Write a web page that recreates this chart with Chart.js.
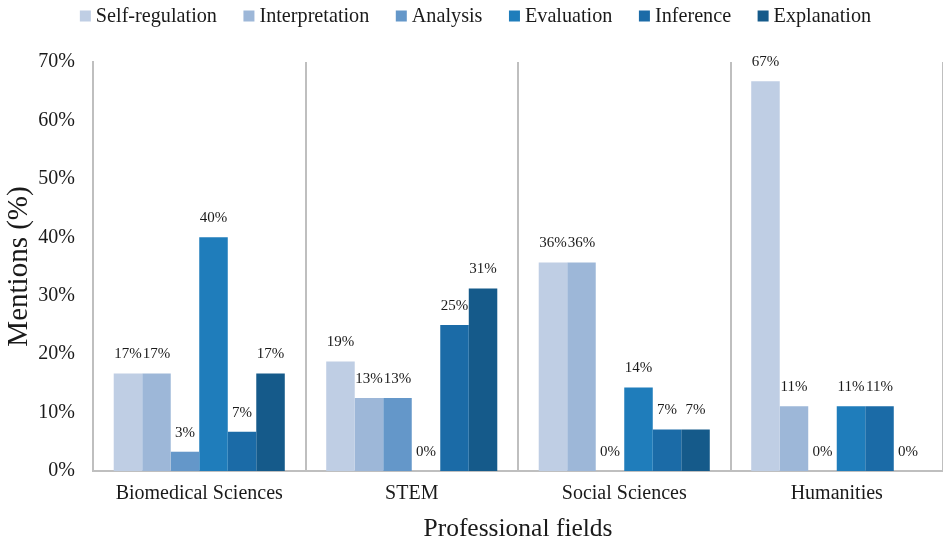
<!DOCTYPE html>
<html>
<head>
<meta charset="utf-8">
<script src="https://cdn.jsdelivr.net/npm/chart.js@4.4.0/dist/chart.umd.min.js"></script>
<style>
  html, body { margin: 0; padding: 0; background: #fff; }
  #wrap { width: 943px; height: 545px; }
</style>
</head>
<body>
<div id="wrap"><canvas id="skillsChart"></canvas></div>
<script>
// --- Data ---
const fields = ['Biomedical Sciences', 'STEM', 'Social Sciences', 'Humanities'];
const selfRegulation = [16.7, 18.75, 35.7, 66.7];
const interpretation = [16.7, 12.5, 35.7, 11.1];
const analysis = [3.3, 12.5, 0, 0];
const evaluation = [40, 0, 14.3, 11.1];
const inference = [6.7, 25, 7.1, 11.1];
const explanation = [16.7, 31.25, 7.1, 0];
const yTicks = [0, 10, 20, 30, 40, 50, 60, 70];

const serif = '"Liberation Serif", "Times New Roman", serif';
const textColor = '#1a1a1a';
const axisGray = '#bfbfbf';

// percentage above each bar
const barLabels = {
    id: 'barLabels',
    afterDatasetsDraw(chart) {
        const ctx = chart.ctx;
        ctx.save();
        ctx.font = '15px ' + serif;
        ctx.fillStyle = textColor;
        ctx.textAlign = 'center';
        ctx.textBaseline = 'middle';
        chart.data.datasets.forEach((ds, i) => {
            const meta = chart.getDatasetMeta(i);
            meta.data.forEach((bar, j) => {
                ctx.fillText(Math.round(ds.data[j]) + '%', bar.x, bar.y - 19);
            });
        });
        ctx.restore();
    }
};

// legend row across the top (small box, tight gap to the text)
const topLegend = {
    id: 'topLegend',
    afterDraw(chart) {
        const ctx = chart.ctx;
        const box = 11, gap = 5, spacing = 26.5;
        ctx.save();
        ctx.font = '20.2px ' + serif;
        ctx.textBaseline = 'middle';
        ctx.textAlign = 'left';
        const items = chart.data.datasets.map(ds => ({ text: ds.label, color: ds.backgroundColor, w: ctx.measureText(ds.label).width }));
        let total = items.reduce((s, it) => s + box + gap + it.w, 0) + spacing * (items.length - 1);
        let x = (chart.width - total) / 2 + 4;
        const y = 16;
        items.forEach(it => {
            ctx.fillStyle = it.color;
            ctx.fillRect(x, y - box / 2, box, box);
            ctx.fillStyle = textColor;
            ctx.fillText(it.text, x + box + gap, y + 1);
            x += box + gap + it.w + spacing;
        });
        ctx.restore();
    }
};

const series = [
    { label: 'Self-regulation', data: selfRegulation, color: '#bfcee4' },
    { label: 'Interpretation', data: interpretation, color: '#9db7d8' },
    { label: 'Analysis', data: analysis, color: '#6497c9' },
    { label: 'Evaluation', data: evaluation, color: '#1f7dbb' },
    { label: 'Inference', data: inference, color: '#1b6ba7' },
    { label: 'Explanation', data: explanation, color: '#155a8a' }
];

new Chart(document.getElementById('skillsChart'), {
    type: 'bar',
    data: {
        labels: fields,
        datasets: series.map(s => ({
            label: s.label,
            data: s.data,
            backgroundColor: s.color,
            borderWidth: 0,
            barPercentage: 1,
            categoryPercentage: 0.805
        }))
    },
    options: {
        responsive: true,
        maintainAspectRatio: false,
        animation: false,
        layout: { padding: { left: 0, right: 0, top: 62, bottom: 0 } },
        plugins: {
            legend: { display: false },
            tooltip: { enabled: false }
        },
        scales: {
            x: {
                afterFit: axis => { axis.height = 74; },
                grid: { display: true, offset: true, color: axisGray, drawTicks: false, lineWidth: 2 },
                border: { display: true, color: axisGray, width: 2 },
                ticks: { font: { family: serif, size: 20 }, color: textColor, padding: 11 },
                title: {
                    display: true,
                    text: 'Professional fields',
                    font: { family: serif, size: 25.5 },
                    color: textColor,
                    padding: { top: 6, bottom: 0 }
                }
            },
            y: {
                min: 0,
                max: 70,
                afterFit: axis => { axis.width = 93; },
                afterBuildTicks: axis => { axis.ticks = yTicks.map(v => ({ value: v })); },
                grid: { display: false, drawTicks: false },
                border: { display: true, color: axisGray, width: 2 },
                ticks: {
                    font: { family: serif, size: 20 },
                    color: textColor,
                    padding: 18,
                    callback: v => v + '%'
                },
                title: {
                    display: true,
                    text: 'Mentions (%)',
                    font: { family: serif, size: 29 },
                    color: textColor,
                    padding: { top: 2, bottom: 2 }
                }
            }
        }
    },
    plugins: [barLabels, topLegend]
});
</script>
</body>
</html>
